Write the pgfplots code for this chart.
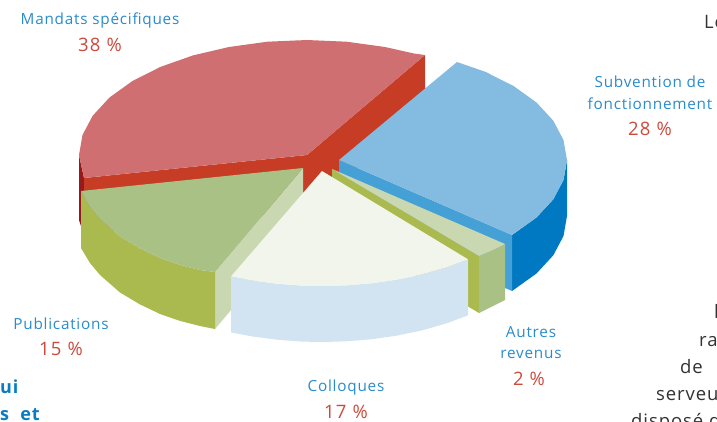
\documentclass[border=0pt]{standalone}
\usepackage{fontspec}
\setmainfont{Open Sans}[LetterSpace=5]
\newfontfamily\numfont{Open Sans}[LetterSpace=7]
\usepackage{pgfplots}
\pgfplotsset{compat=1.18}
\definecolor{redtop}{HTML}{D06F71}
\definecolor{redside}{HTML}{C63C25}
\definecolor{reddark}{HTML}{96191E}
\definecolor{bluetop}{HTML}{84BBE0}
\definecolor{bluecut}{HTML}{45A0D6}
\definecolor{blueout}{HTML}{0079C2}
\definecolor{lgreen}{HTML}{C9D8B0}
\definecolor{mgreen}{HTML}{A9C185}
\definecolor{olive}{HTML}{ABBA4E}
\definecolor{colltop}{HTML}{F2F5EC}
\definecolor{collside}{HTML}{D2E4F2}
\definecolor{lblue}{HTML}{2A8BCB}
\definecolor{lred}{HTML}{CC4A3C}
\definecolor{btext}{HTML}{0A7DC2}
\definecolor{dtext}{HTML}{333333}
\tikzset{
 lab/.style={text=lblue,font=\fontsize{15.3}{15.3}\selectfont,anchor=center,inner sep=0pt},
 pct/.style={text=lred,font=\fontsize{18.5}{18.5}\numfont,anchor=center,inner sep=0pt},
 body/.style={text=dtext,font=\fontsize{18.5}{18.5}\selectfont,anchor=base west,inner sep=0pt},
 bold/.style={text=btext,font=\fontsize{18}{18}\selectfont\bfseries,anchor=base west,inner sep=0pt},
}
\begin{document}
\begin{tikzpicture}
\path[use as bounding box,clip] (0,0) rectangle (717pt,421pt);
\begin{axis}[
  at={(0,0)},anchor=south west,
  width=717pt,height=421pt,scale only axis,
  xmin=0,xmax=717,ymin=0,ymax=421,y dir=reverse,
  hide axis,clip=false,no markers,
]
% Mandats specifiques
\addplot[fill=reddark,draw=none] coordinates {(79,155)(84,178)(84,234)(81,226)(79,220)} -- cycle;
\addplot[fill=redside,draw=none] coordinates {(84,178)(307,155)(425,55)(425,111)(307,211)(84,234)} -- cycle;
\addplot[fill=redtop,draw=none] coordinates {(307,155)(84,178)(79,155)(82.5,135)(92.7,115.7)(109.5,97.5)(132.3,81.1)(160.4,66.9)(193,55.4)(229,47)(267.4,41.7)(307,40)(346.6,41.7)(385,47)(414,53.5)(425,55)} -- cycle;
% Subvention de fonctionnement
\addplot[fill=blueout,draw=none] coordinates {(567,160)(563.5,180)(553.3,199.3)(536.5,217.5)(512,235)(512,291)(536.5,273.5)(553.3,255.3)(563.5,236)(567,216)} -- cycle;
\addplot[fill=bluecut,draw=none] coordinates {(339,160)(512,235)(512,291)(339,216)} -- cycle;
\addplot[fill=bluetop,draw=none] coordinates {(339,160)(457,62)(485.6,71.9)(513.7,86.1)(536.5,102.5)(553.3,120.7)(563.5,140)(567,160)(563.5,180)(553.3,199.3)(536.5,217.5)(512,235)} -- cycle;
% Autres revenus
\addplot[fill=olive,draw=none] coordinates {(332,169)(479,256)(479,313)(332,226)} -- cycle;
\addplot[fill=mgreen,draw=none] coordinates {(479,256)(492,250.5)(505,244)(505,300)(492,306.5)(479,313)} -- cycle;
\addplot[fill=lgreen,draw=none] coordinates {(332,169)(505,244)(492,250.5)(479,256)} -- cycle;
% Publications
\addplot[fill=lgreen,draw=none] coordinates {(303,168)(215,272)(215,329)(303,225)} -- cycle;
\addplot[fill=olive,draw=none] coordinates {(81,191)(90,207)(100,219)(120,236.5)(140,248.4)(160,258)(180,264.9)(200,270)(215,272)(215,329)(200,326)(180,320.9)(160,314)(140,304.4)(120,292.5)(100,275)(90,263)(81,248)} -- cycle;
\addplot[fill=mgreen,draw=none] coordinates {(303,168)(81,191)(90,207)(100,219)(120,236.5)(140,248.4)(160,258)(180,264.9)(200,270)(215,272)} -- cycle;
% Colloques
\addplot[fill=collside,draw=none] coordinates {(231,276.4)(252,280.4)(277,283.7)(302,285.6)(322,286)(347,285.3)(372,283.2)(397,279.6)(422,274.4)(447,267.2)(468,259.3)(468,315.3)(447,323.2)(422,330.4)(397,335.6)(372,339.2)(347,341.3)(322,342)(302,341.6)(277,339.7)(252,336.4)(231,332.4)} -- cycle;
\addplot[fill=colltop,draw=none] coordinates {(322,171)(231,276.4)(252,280.4)(277,283.7)(302,285.6)(322,286)(347,285.3)(372,283.2)(397,279.6)(422,274.4)(447,267.2)(468,259.3)} -- cycle;
% Labels
\node[lab] at (axis cs:100,20) {Mandats spécifiques};
\node[pct] at (axis cs:100,45) {38 \%};
\node[lab] at (axis cs:650,82) {Subvention de};
\node[lab] at (axis cs:650,104) {fonctionnement};
\node[pct] at (axis cs:650,129) {28 \%};
\node[lab] at (axis cs:531,332) {Autres};
\node[lab] at (axis cs:531,354) {revenus};
\node[pct] at (axis cs:529,379) {2 \%};
\node[lab] at (axis cs:61,324) {Publications};
\node[pct] at (axis cs:61,349) {15 \%};
\node[lab] at (axis cs:346,388) {Colloques};
\node[pct] at (axis cs:346,412) {17 \%};
% Fragments of surrounding page text
\node[bold] at (axis cs:0,393) {ui};
\node[bold] at (axis cs:0,420) {s\ \ et};
\node[body] at (axis cs:704,28) {Le};
\node[body] at (axis cs:714,318) {l};
\node[body] at (axis cs:699,346) {ra};
\node[body] at (axis cs:680,373) {de};
\node[body] at (axis cs:656,400) {serveur};
\node[body] at (axis cs:631,427) {disposé d};
\end{axis}
\end{tikzpicture}
\end{document}
